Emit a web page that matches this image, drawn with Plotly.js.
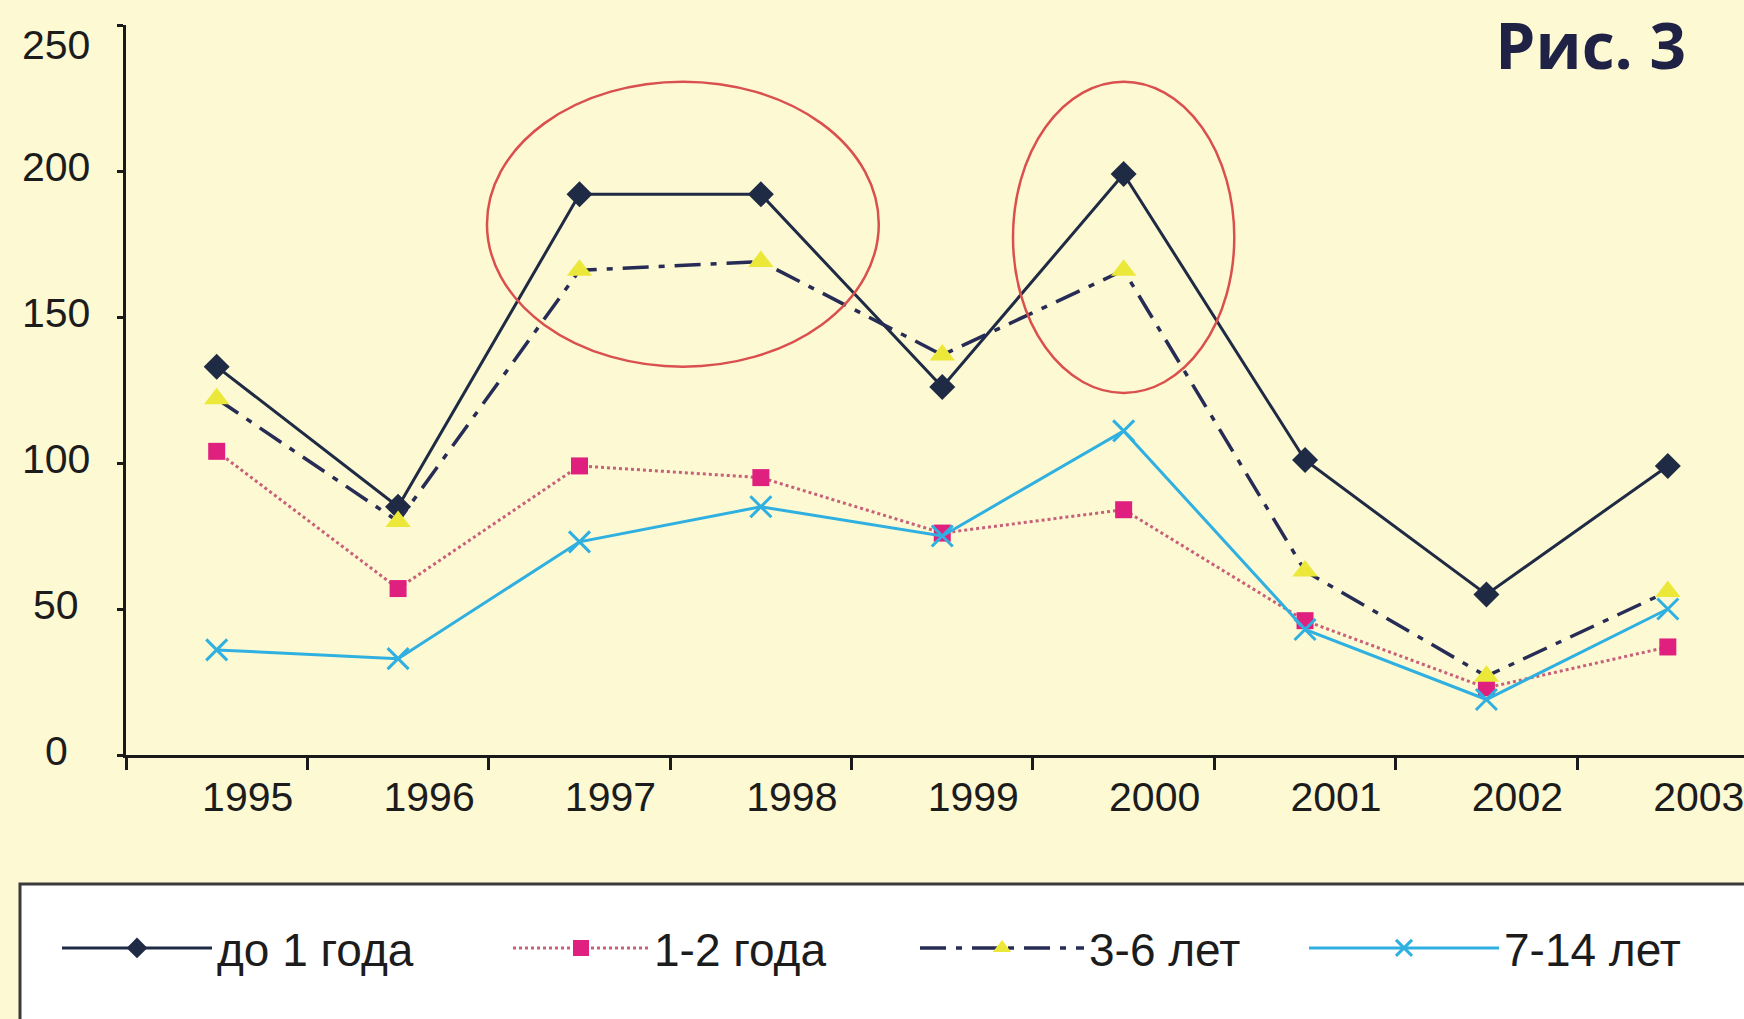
<!DOCTYPE html>
<html>
<head>
<meta charset="utf-8">
<script src="https://cdn.plot.ly/plotly-3.0.1.min.js"></script>
<style>
  html, body { margin: 0; padding: 0; background: #fdf9d3; }
  #chart { width: 1744px; height: 1019px; }
</style>
</head>
<body>
<div id="chart"></div>
<script>
// Заболеваемость по возрастным группам, 1995–2003
const years = ['1995', '1996', '1997', '1998', '1999', '2000', '2001', '2002', '2003'];
const under1 = [133, 85, 192, 192, 126, 199, 101, 55, 99];
const age1to2 = [104, 57, 99, 95, 76, 84, 46, 23, 37];
const age3to6 = [122, 80, 166, 169, 137, 166, 63, 27, 56];
const age7to14 = [36, 33, 73, 85, 75, 111, 43, 19, 50];
const seriesNames = ['до 1 года', '1-2 года', '3-6 лет', '7-14 лет'];
const yTicks = [0, 50, 100, 150, 200, 250];
const yTickText = ['0', '50', '100', '150', '200', '250'];

const navy = '#1f2a44';
const textFamily = '"Liberation Sans", Arial, sans-serif';
const tickFont = { family: textFamily, size: 41, color: '#1c1c1c' };

const traces = [
  {
    x: years, y: under1, name: seriesNames[0], type: 'scatter', mode: 'lines+markers',
    line: { color: navy, width: 3 },
    marker: { symbol: 'diamond', size: 20, color: navy },
    legend: 'legend'
  },
  {
    x: years, y: age1to2, name: seriesNames[1], type: 'scatter', mode: 'lines+markers',
    line: { color: '#c8607a', width: 3, dash: 'dot' },
    marker: { symbol: 'square', size: 17, color: '#e0207e' },
    legend: 'legend2'
  },
  {
    x: years, y: age3to6, name: seriesNames[2], type: 'scatter', mode: 'lines+markers',
    line: { color: '#262c55', width: 3.5, dash: '26px,10px,6px,10px' },
    marker: { symbol: 'triangle-up', size: 22, color: '#ece83a' },
    legend: 'legend3'
  },
  {
    x: years, y: age7to14, name: seriesNames[3], type: 'scatter', mode: 'lines+markers',
    line: { color: '#2fb0e0', width: 3 },
    marker: { symbol: 'x-thin-open', size: 21, color: '#2fb0e0', line: { color: '#2fb0e0', width: 3 } },
    legend: 'legend4'
  }
];

const legendBase = {
  orientation: 'h', xref: 'container', yref: 'container',
  yanchor: 'middle', xanchor: 'left', y: 1 - 948 / 1019,
  bgcolor: 'rgba(0,0,0,0)', borderwidth: 0,
  font: { family: textFamily, size: 46, color: '#1c1c1c' }
};

// подписи оси Y центрированы в колонке слева от оси; верхняя опущена ниже края
const yLabelAnnotations = yTicks.map((v, i) => ({
  text: yTickText[i], xref: 'paper', yref: 'y', x: 0, y: v,
  xanchor: 'center', yanchor: 'middle', xshift: -70,
  yshift: v === 250 ? -20 : 4,
  showarrow: false, font: tickFont
}));

const layout = {
  width: 1744, height: 1019,
  paper_bgcolor: '#fdf9d3', plot_bgcolor: '#fdf9d3',
  margin: { l: 126, r: 0, t: 25, b: 264 },
  showlegend: true,
  legend: Object.assign({}, legendBase, { x: 57 / 1744, itemwidth: 150 }),
  legend2: Object.assign({}, legendBase, { x: 508 / 1744, itemwidth: 136 }),
  legend3: Object.assign({}, legendBase, { x: 915 / 1744, itemwidth: 164 }),
  legend4: Object.assign({}, legendBase, { x: 1304 / 1744, itemwidth: 190 }),
  title: {
    text: '<b>Рис. 3</b>', x: 1686 / 1744, xanchor: 'right', xref: 'container',
    y: 1 - 47 / 1019, yanchor: 'middle', yref: 'container',
    font: { family: '"Open Sans", "Noto Sans", sans-serif', size: 64, color: '#1f2245' }
  },
  xaxis: {
    type: 'category', range: [-0.5, 8.42],
    showline: true, linecolor: '#1a1a1a', linewidth: 3,
    ticks: 'outside', ticklen: 12, tickwidth: 3, tickcolor: '#1a1a1a',
    tickson: 'boundaries', ticklabelshift: 31, ticklabelstandoff: 4,
    showgrid: false, zeroline: false, tickfont: tickFont, fixedrange: true
  },
  yaxis: {
    range: [0, 250], tickvals: yTicks, showticklabels: false,
    showline: true, linecolor: '#1a1a1a', linewidth: 3,
    ticks: 'outside', ticklen: 6, tickwidth: 3, tickcolor: '#1a1a1a',
    showgrid: false, zeroline: false, fixedrange: true
  },
  annotations: yLabelAnnotations,
  shapes: [
    // выделение пиков 1997–1998 и 2000 гг.
    { type: 'circle', xref: 'x', yref: 'y', x0: 1.49, x1: 3.65, y0: 133, y1: 230.6,
      line: { color: '#d9504e', width: 2.5 }, layer: 'above' },
    { type: 'circle', xref: 'x', yref: 'y', x0: 4.39, x1: 5.61, y0: 124, y1: 230.6,
      line: { color: '#d9504e', width: 2.5 }, layer: 'above' },
    // рамка легенды
    { type: 'rect', xref: 'paper', yref: 'paper',
      x0: (20 - 126) / 1618, x1: 1.05, y0: -0.5, y1: -(884 - 755) / 730,
      line: { color: '#3a3a3a', width: 3 }, fillcolor: '#ffffff', layer: 'below' }
  ]
};

Plotly.newPlot('chart', traces, layout, { displayModeBar: false, staticPlot: true });
</script>
</body>
</html>
